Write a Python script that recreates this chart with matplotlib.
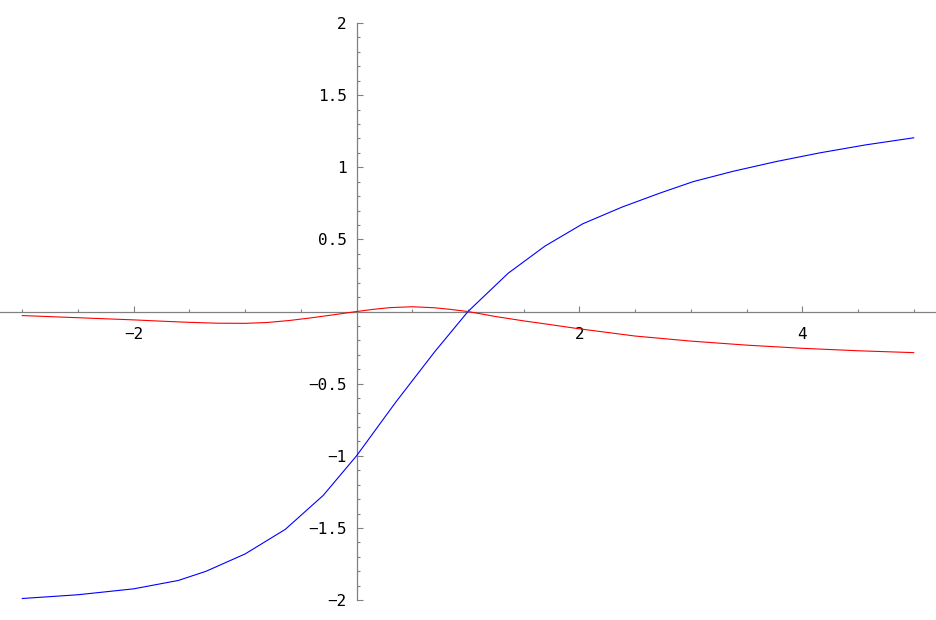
import matplotlib
matplotlib.use("Agg")
import matplotlib.pyplot as plt
from matplotlib.ticker import FixedLocator, FixedFormatter

# values
blue_x = [-3.0, -2.5, -2.0, -1.6, -1.35, -1.0, -0.64, -0.3, 0.0, 0.35, 0.7, 1.0,
          1.36, 1.69, 2.03, 2.38, 2.72, 3.02, 3.38, 3.77, 4.16, 4.57, 5.0]
blue_y = [-1.989, -1.963, -1.922, -1.864, -1.80, -1.68, -1.51, -1.275, -1.0, -0.63, -0.28, 0.0,
          0.265, 0.453, 0.608, 0.723, 0.82, 0.90, 0.972, 1.04, 1.10, 1.155, 1.204]

red_x = [-3.0, -2.5, -2.0, -1.75, -1.5, -1.25, -1.0, -0.8, -0.6, -0.4, -0.2, 0.0,
         0.15, 0.3, 0.5, 0.7, 0.85, 1.0, 1.25, 1.5, 1.65, 2.0, 2.5, 3.0, 3.5, 4.0, 4.5, 5.0]
red_y = [-0.028, -0.043, -0.058, -0.067, -0.075, -0.081, -0.082, -0.076, -0.062, -0.043, -0.022, 0.0,
         0.015, 0.027, 0.033, 0.026, 0.014, 0.0, -0.035, -0.065, -0.081, -0.12, -0.17, -0.205,
         -0.233, -0.255, -0.272, -0.285]

x_ticks = [-2, 2, 4]
x_tick_labels = ['\u22122', '2', '4']
x_minor = [-3, -2.5, -1.5, -1, -0.5, 0.5, 1, 1.5, 2.5, 3, 3.5, 4.5, 5]
y_ticks = [-2, -1.5, -1, -0.5, 0.5, 1, 1.5, 2]
y_tick_labels = ['\u22122', '\u22121.5', '\u22121', '\u22120.5', '0.5', '1', '1.5', '2']

axis_color = '#808080'

fig = plt.figure(figsize=(9.36, 6.2), dpi=100)
ax = fig.add_axes([0, 0, 1, 1])

ax.plot(blue_x, blue_y, color=(0, 0, 1), lw=0.8)
ax.plot(red_x, red_y, color=(1, 0, 0), lw=0.8)

ax.set_xlim(-3.2, 5.2)
ax.set_ylim(-2.138, 2.159)

for s in ['top', 'right']:
    ax.spines[s].set_visible(False)
ax.spines['left'].set_position(('data', 0))
ax.spines['bottom'].set_position(('data', 0))
ax.spines['left'].set_bounds(-2, 2)
for s in ['left', 'bottom']:
    ax.spines[s].set_color(axis_color)
    ax.spines[s].set_linewidth(0.9)
    ax.spines[s].set_zorder(0)

ax.xaxis.set_major_locator(FixedLocator(x_ticks))
ax.xaxis.set_major_formatter(FixedFormatter(x_tick_labels))
ax.xaxis.set_minor_locator(FixedLocator(x_minor))
ax.yaxis.set_major_locator(FixedLocator(y_ticks))
ax.yaxis.set_major_formatter(FixedFormatter(y_tick_labels))
ax.yaxis.set_minor_locator(FixedLocator([round(-2 + 0.1 * i, 1) for i in range(41)
                                         if i % 5 != 0]))

ax.tick_params(which='both', direction='in', color=axis_color, width=0.8)
ax.tick_params(which='major', length=4.5)
ax.tick_params(which='minor', length=2.5)
ax.tick_params(axis='x', which='major', pad=11)
ax.tick_params(axis='y', which='major', pad=7)

for lab in ax.get_xticklabels() + ax.get_yticklabels():
    lab.set_family('DejaVu Sans Mono')
    lab.set_fontsize(11.5)
    lab.set_color('black')

fig.savefig('out.png', dpi=100)
